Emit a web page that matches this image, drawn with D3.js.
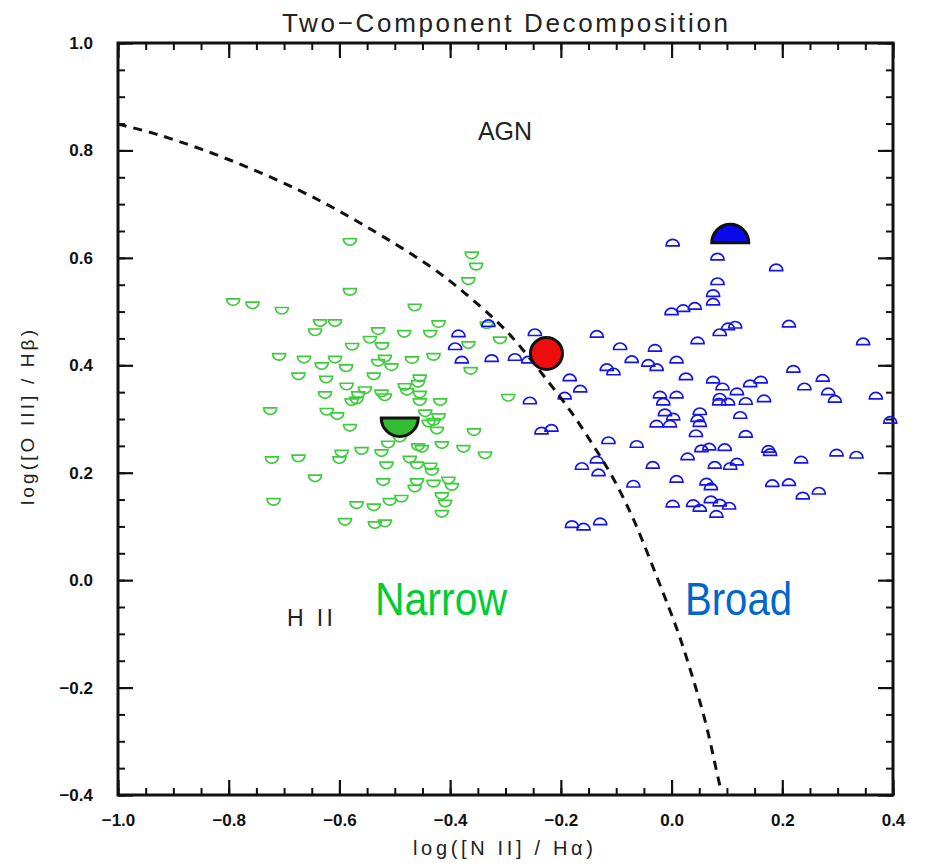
<!DOCTYPE html>
<html>
<head>
<meta charset="utf-8">
<script src="https://cdn.jsdelivr.net/npm/d3@7"></script>
<style>
  body { margin: 0; background: #fff; }
  text { font-family: "Liberation Sans", Arial, sans-serif; }
</style>
</head>
<body>
<svg width="933" height="867"></svg>
<script>
// narrow component (green, half circles opening down)
let narrowX = [-0.581, -0.361, -0.353, -0.367, -0.581, -0.792, -0.757, -0.704, -0.464, -0.635,
  -0.608, -0.644, -0.530, -0.483, -0.436, -0.421, -0.545, -0.577, -0.523, -0.367,
  -0.334, -0.709, -0.664, -0.608, -0.632, -0.588, -0.530, -0.518, -0.506, -0.469,
  -0.430, -0.363, -0.674, -0.624, -0.538, -0.587, -0.455, -0.458, -0.482, -0.554,
  -0.566, -0.626, -0.524, -0.518, -0.478, -0.455, -0.578, -0.569, -0.455, -0.418,
  -0.725, -0.623, -0.604, -0.445, -0.421, -0.430, -0.439, -0.424, -0.581, -0.357,
  -0.491, -0.512, -0.458, -0.451, -0.415, -0.376, -0.337, -0.722, -0.674, -0.596,
  -0.600, -0.560, -0.524, -0.473, -0.460, -0.436, -0.433, -0.515, -0.644, -0.521,
  -0.460, -0.464, -0.430, -0.403, -0.397, -0.415, -0.409, -0.415, -0.719, -0.569,
  -0.538, -0.509, -0.488, -0.590, -0.536, -0.518, -0.310, -0.295];
let narrowY = [0.630, 0.605, 0.584, 0.557, 0.537, 0.518, 0.512, 0.502, 0.508, 0.479,
  0.479, 0.462, 0.464, 0.459, 0.459, 0.477, 0.448, 0.435, 0.436, 0.438,
  0.475, 0.416, 0.411, 0.411, 0.399, 0.395, 0.405, 0.413, 0.397, 0.410,
  0.416, 0.390, 0.380, 0.374, 0.380, 0.361, 0.376, 0.366, 0.360, 0.354,
  0.345, 0.345, 0.348, 0.341, 0.351, 0.346, 0.332, 0.335, 0.332, 0.332,
  0.315, 0.314, 0.306, 0.311, 0.304, 0.295, 0.292, 0.279, 0.284, 0.276,
  0.264, 0.253, 0.248, 0.245, 0.252, 0.245, 0.233, 0.224, 0.227, 0.236,
  0.224, 0.241, 0.237, 0.225, 0.214, 0.212, 0.202, 0.214, 0.190, 0.183,
  0.183, 0.171, 0.180, 0.186, 0.174, 0.157, 0.143, 0.124, 0.146, 0.140,
  0.136, 0.146, 0.152, 0.109, 0.103, 0.106, 0.447, 0.340];

// broad component (blue, half circles opening up)
let broadX = [-0.331, -0.385, -0.391, -0.379, -0.325, -0.283, -0.247, -0.259, -0.135, -0.093,
  -0.030, 0.000, -0.072, -0.117, -0.105, -0.042, -0.027, 0.009, -0.184, -0.165,
  -0.193, -0.256, -0.235, -0.217, -0.114, -0.063, -0.021, 0.009, -0.012, 0.003,
  -0.027, -0.003, -0.135, -0.162, -0.132, -0.034, 0.009, -0.069, 0.002, -0.180,
  -0.159, -0.129, 0.002, 0.083, 0.189, 0.083, 0.075, 0.075, 0.021, 0.042,
  0.212, 0.087, 0.102, 0.115, 0.047, 0.346, 0.220, 0.026, 0.075, 0.092,
  0.142, 0.161, 0.118, 0.167, 0.240, 0.273, 0.283, 0.295, 0.369, 0.395,
  -0.015, 0.087, 0.102, 0.086, 0.134, 0.051, 0.047, 0.051, 0.124, 0.044,
  0.134, 0.054, 0.068, 0.096, 0.175, 0.178, 0.298, 0.334, 0.029, 0.078,
  0.106, 0.118, 0.234, 0.063, 0.071, 0.182, 0.212, 0.237, 0.266, 0.039,
  0.051, 0.071, 0.087, 0.104, 0.081];
let broadY = [0.478, 0.459, 0.435, 0.410, 0.413, 0.415, 0.461, 0.410, 0.458, 0.435,
  0.432, 0.500, 0.411, 0.396, 0.388, 0.404, 0.396, 0.410, 0.377, 0.356,
  0.343, 0.334, 0.278, 0.283, 0.260, 0.253, 0.345, 0.345, 0.312, 0.304,
  0.291, 0.291, 0.224, 0.212, 0.200, 0.214, 0.188, 0.179, 0.142, 0.104,
  0.099, 0.109, 0.628, 0.602, 0.582, 0.556, 0.534, 0.518, 0.506, 0.510,
  0.477, 0.461, 0.472, 0.475, 0.446, 0.444, 0.393, 0.379, 0.373, 0.360,
  0.366, 0.373, 0.351, 0.338, 0.360, 0.376, 0.351, 0.337, 0.343, 0.298,
  0.332, 0.341, 0.332, 0.332, 0.333, 0.314, 0.301, 0.292, 0.307, 0.273,
  0.272, 0.245, 0.248, 0.247, 0.244, 0.238, 0.237, 0.233, 0.230, 0.214,
  0.212, 0.220, 0.224, 0.183, 0.174, 0.180, 0.182, 0.157, 0.166, 0.143,
  0.134, 0.150, 0.144, 0.138, 0.123];

// mean values
let meanNarrow = [-0.491, 0.302];
let meanBroad = [0.106, 0.628];
let total = [-0.226, 0.422];

// demarcation line
let lineX = [-1.0, -0.936, -0.852, -0.762, -0.671, -0.599, -0.521, -0.430, -0.370, -0.310,
  -0.271, -0.223, -0.178, -0.141, -0.108, -0.075, -0.057, -0.009, 0.015, 0.039,
  0.063, 0.084, 0.090];
let lineY = [0.849, 0.833, 0.804, 0.768, 0.726, 0.687, 0.640, 0.582, 0.532, 0.478,
  0.433, 0.370, 0.310, 0.250, 0.197, 0.128, 0.086, -0.040, -0.104, -0.184,
  -0.266, -0.370, -0.393];

let majorX = [-1.0, -0.8, -0.6, -0.4, -0.2, 0.0, 0.2, 0.4];
let majorY = [-0.4, -0.2, 0.0, 0.2, 0.4, 0.6, 0.8, 1.0];
let minorX = d3.range(-1.0, 0.401, 0.05);
let minorY = d3.range(-0.4, 1.001, 0.05);

let padLeft = 118, padRight = 893, padTop = 43, padBottom = 795;

let xScale = d3.scaleLinear().domain([-1.0, 0.4]).range([padLeft, padRight]);
let yScale = d3.scaleLinear().domain([-0.4, 1.0]).range([padBottom, padTop]);

let svg = d3.select("svg");
let fmt = d3.format(".1f");

function styleAxis(g, w) {
    g.select(".domain").remove();
    g.selectAll("line").attr("stroke", "#111").attr("stroke-width", w);
}

// minor ticks on all four sides
svg.append("g").attr("transform", "translate(0," + padBottom + ")")
    .call(d3.axisBottom(xScale).tickValues(minorX).tickSize(-7).tickFormat(""))
    .call(g => styleAxis(g, 2));
svg.append("g").attr("transform", "translate(0," + padTop + ")")
    .call(d3.axisTop(xScale).tickValues(minorX).tickSize(-7).tickFormat(""))
    .call(g => styleAxis(g, 2));
svg.append("g").attr("transform", "translate(" + padLeft + ",0)")
    .call(d3.axisLeft(yScale).tickValues(minorY).tickSize(-7).tickFormat(""))
    .call(g => styleAxis(g, 2));
svg.append("g").attr("transform", "translate(" + padRight + ",0)")
    .call(d3.axisRight(yScale).tickValues(minorY).tickSize(-7).tickFormat(""))
    .call(g => styleAxis(g, 2));

// major ticks
let xAxis = svg.append("g").attr("transform", "translate(0," + padBottom + ")")
    .call(d3.axisBottom(xScale).tickValues(majorX).tickSize(-15).tickPadding(26).tickFormat(fmt))
    .call(g => styleAxis(g, 2.2));
svg.append("g").attr("transform", "translate(0," + padTop + ")")
    .call(d3.axisTop(xScale).tickValues(majorX).tickSize(-15).tickFormat(""))
    .call(g => styleAxis(g, 2.2));
let yAxis = svg.append("g").attr("transform", "translate(" + padLeft + ",0)")
    .call(d3.axisLeft(yScale).tickValues(majorY).tickSize(-15).tickPadding(25).tickFormat(fmt))
    .call(g => styleAxis(g, 2.2));
svg.append("g").attr("transform", "translate(" + padRight + ",0)")
    .call(d3.axisRight(yScale).tickValues(majorY).tickSize(-15).tickFormat(""))
    .call(g => styleAxis(g, 2.2));

svg.selectAll(".tick text")
    .attr("font-family", "Liberation Sans, Arial, sans-serif")
    .attr("font-size", 17)
    .attr("font-weight", "bold")
    .attr("fill", "#111");
xAxis.selectAll(".tick text").attr("dy", "0.3em");

// frame
svg.append("rect")
    .attr("x", padLeft).attr("y", padTop)
    .attr("width", padRight - padLeft).attr("height", padBottom - padTop)
    .attr("fill", "none").attr("stroke", "#111").attr("stroke-width", 3);

// small markers
let bowl = "M-6.5,-3L6.5,-3A6.5,6.5 0 0 1 -6.5,-3Z";
let dome = "M-6.5,3L6.5,3A6.5,6.5 0 0 0 -6.5,3Z";

svg.append("g").selectAll("path")
    .data(d3.range(narrowX.length))
    .enter()
    .append("path")
    .attr("d", bowl)
    .attr("transform", i => "translate(" + xScale(narrowX[i]) + "," + yScale(narrowY[i]) + ")")
    .attr("fill", "none")
    .attr("stroke", "#3ccc3c")
    .attr("stroke-width", 1.7);

svg.append("g").selectAll("path")
    .data(d3.range(broadX.length))
    .enter()
    .append("path")
    .attr("d", dome)
    .attr("transform", i => "translate(" + xScale(broadX[i]) + "," + yScale(broadY[i]) + ")")
    .attr("fill", "none")
    .attr("stroke", "#1414f0")
    .attr("stroke-width", 1.7);

// dividing line
let line = d3.line()
    .x(i => xScale(lineX[i]))
    .y(i => yScale(lineY[i]))
    .curve(d3.curveBasis);

svg.append("path")
    .datum(d3.range(lineX.length))
    .attr("d", line)
    .attr("fill", "none")
    .attr("stroke", "#111")
    .attr("stroke-width", 3)
    .attr("stroke-dasharray", "9,7");

// big markers
let R = 18.5;
svg.append("path")
    .attr("d", "M" + (-R) + ",0L" + R + ",0A" + R + "," + R + " 0 0 1 " + (-R) + ",0Z")
    .attr("transform", "translate(" + xScale(meanNarrow[0]) + "," + yScale(meanNarrow[1]) + ")")
    .attr("fill", "#33bb33").attr("stroke", "#111").attr("stroke-width", 3);

svg.append("path")
    .attr("d", "M" + (-R) + ",0L" + R + ",0A" + R + "," + R + " 0 0 0 " + (-R) + ",0Z")
    .attr("transform", "translate(" + xScale(meanBroad[0]) + "," + yScale(meanBroad[1]) + ")")
    .attr("fill", "#0a0aee").attr("stroke", "#111").attr("stroke-width", 3);

svg.append("circle")
    .attr("cx", xScale(total[0]))
    .attr("cy", yScale(total[1]))
    .attr("r", 16)
    .attr("fill", "#ee0d0d").attr("stroke", "#111").attr("stroke-width", 3);

// texts
svg.append("text")
    .attr("x", 282).attr("y", 32)
    .attr("textLength", 446).attr("lengthAdjust", "spacing")
    .attr("font-size", 26).attr("fill", "#222")
    .text("Two−Component Decomposition");

svg.append("text")
    .attr("x", 505).attr("y", 140)
    .attr("text-anchor", "middle")
    .attr("font-size", 25).attr("fill", "#222")
    .text("AGN");

svg.append("text")
    .attr("x", 287).attr("y", 626)
    .attr("textLength", 46).attr("lengthAdjust", "spacing")
    .attr("font-size", 23).attr("fill", "#222")
    .text("H II");

svg.append("text")
    .attr("x", 375).attr("y", 615)
    .attr("textLength", 132).attr("lengthAdjust", "spacingAndGlyphs")
    .attr("font-size", 46).attr("fill", "#00cc33")
    .text("Narrow");

svg.append("text")
    .attr("x", 685).attr("y", 615)
    .attr("textLength", 107).attr("lengthAdjust", "spacingAndGlyphs")
    .attr("font-size", 46).attr("fill", "#0066cc")
    .text("Broad");

svg.append("text")
    .attr("x", 413).attr("y", 855)
    .attr("textLength", 180).attr("lengthAdjust", "spacing")
    .attr("font-size", 20).attr("fill", "#222")
    .text("log([N II] / Hα)");

svg.append("text")
    .attr("transform", "translate(34,505) rotate(-90)")
    .attr("textLength", 175).attr("lengthAdjust", "spacing")
    .attr("font-size", 19).attr("fill", "#222")
    .text("log([O III] / Hβ)");
</script>
</body>
</html>
